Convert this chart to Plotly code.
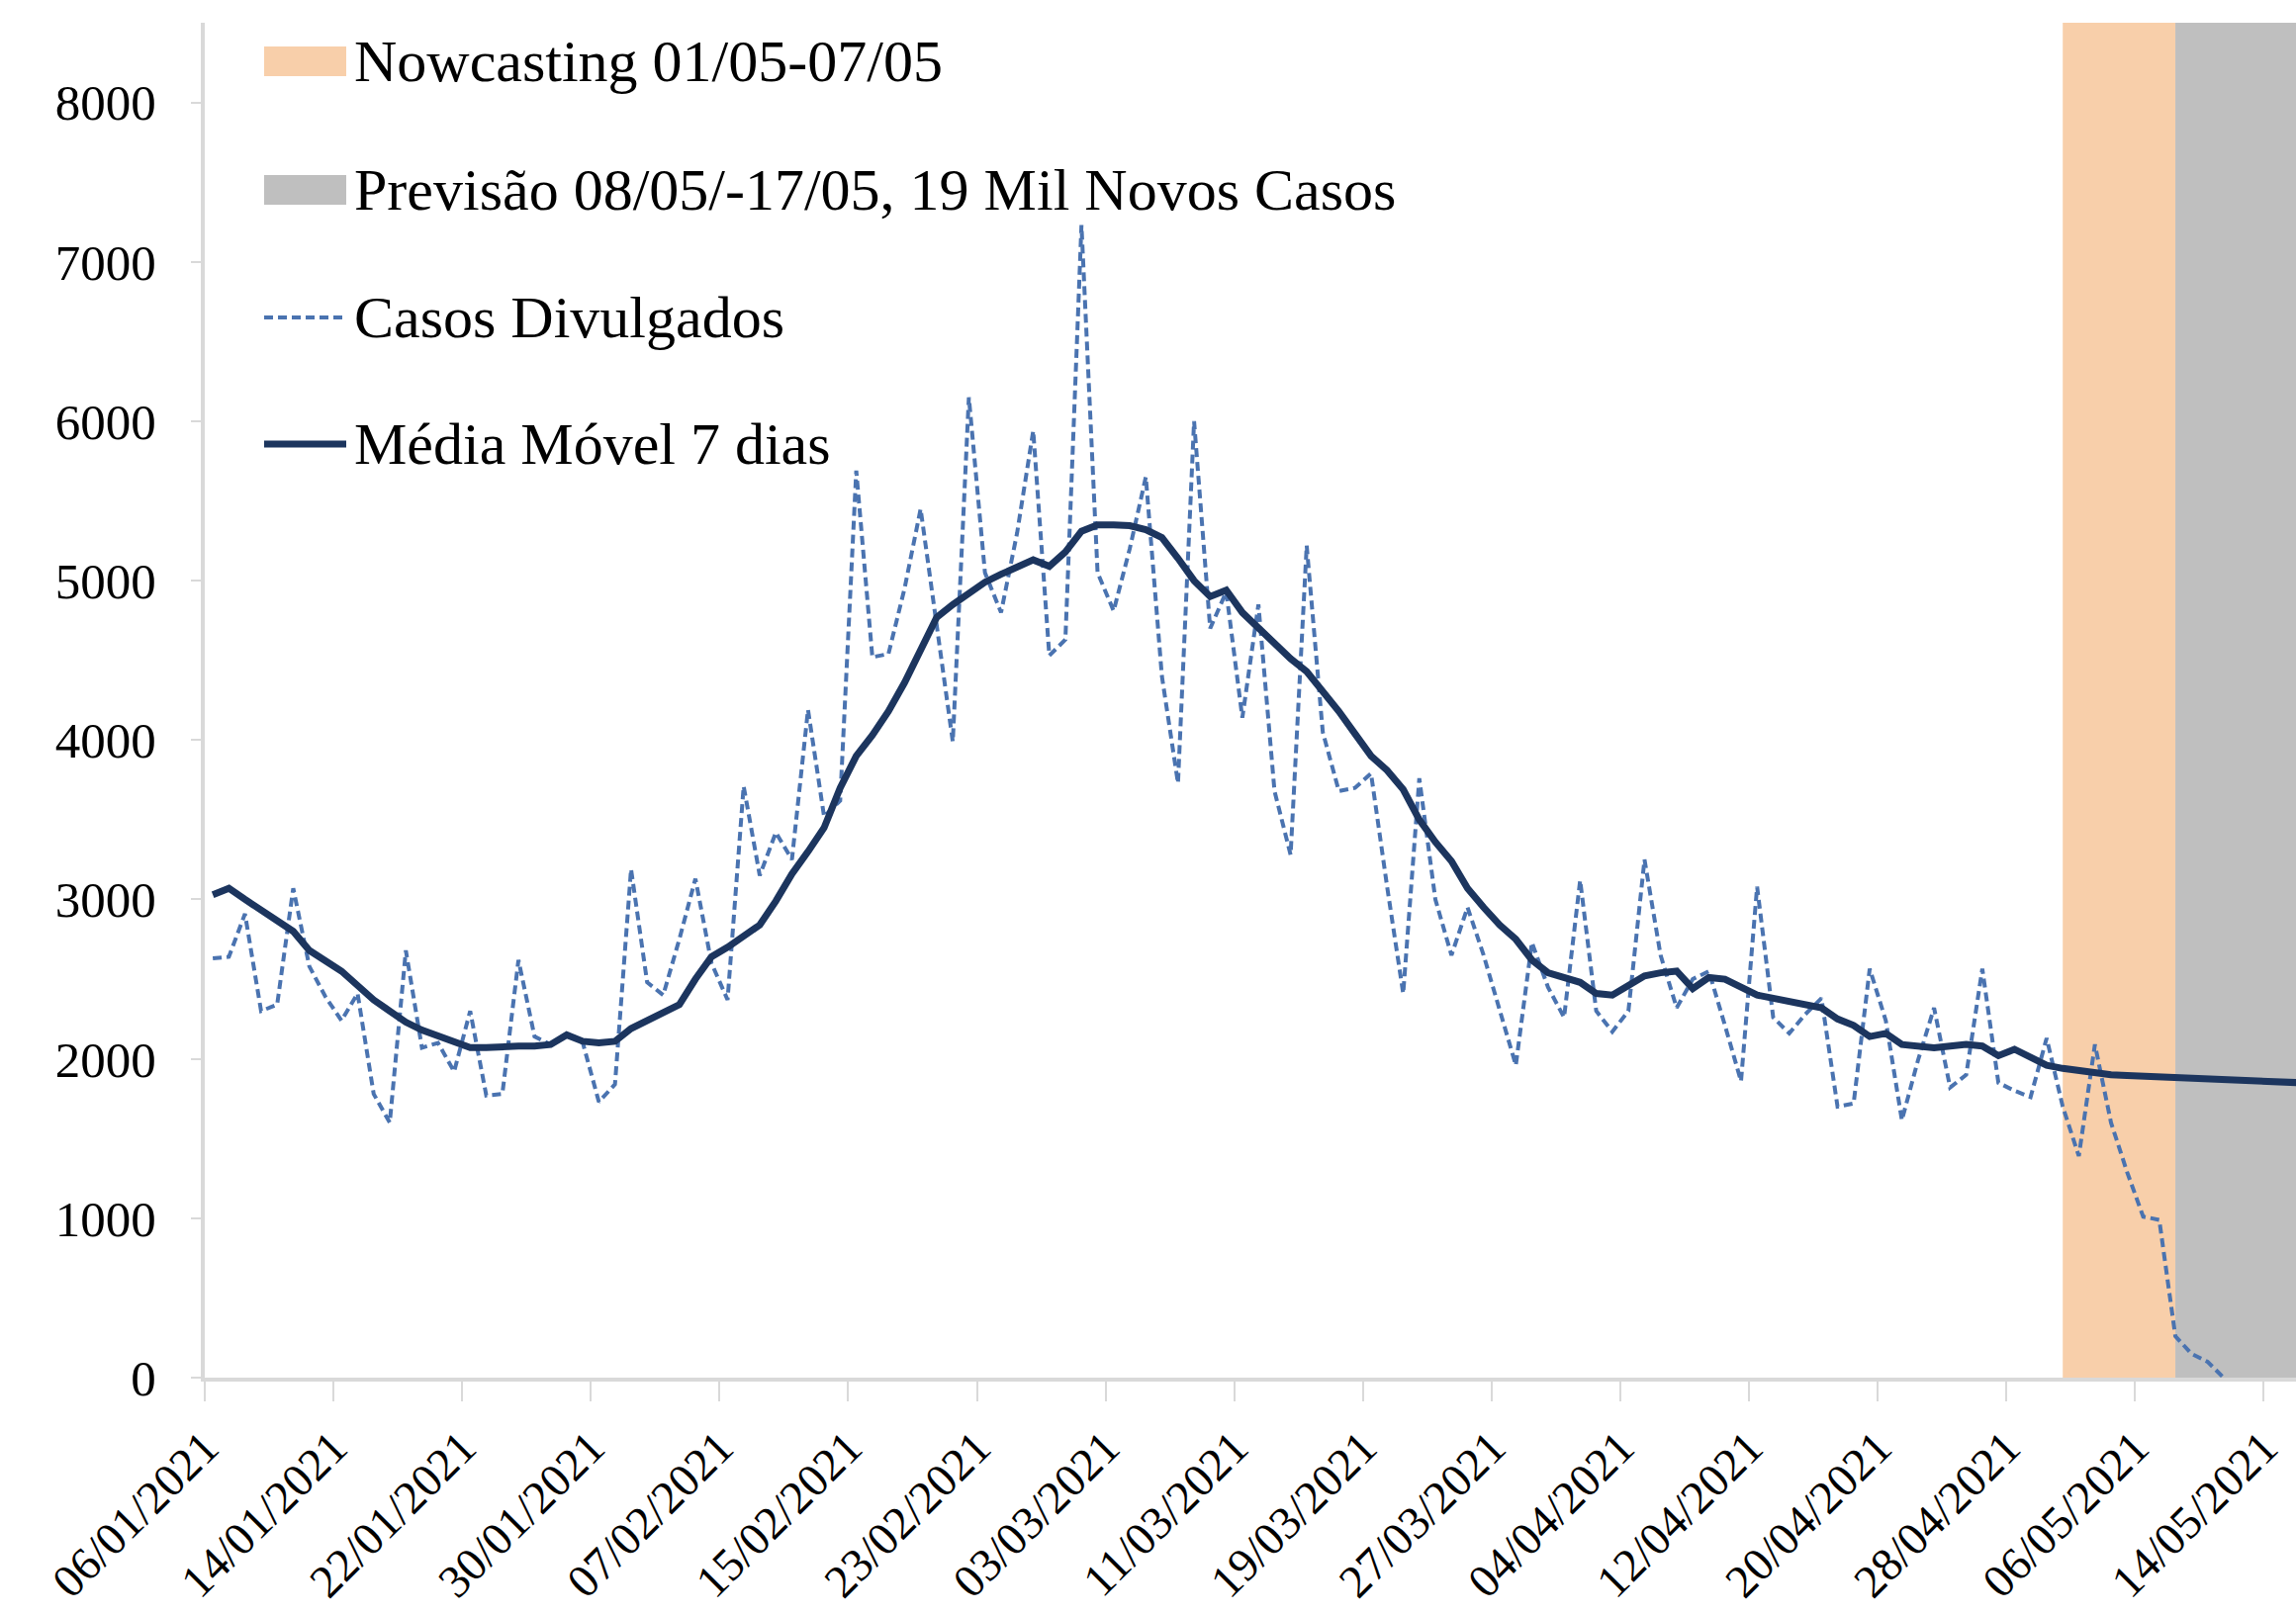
import pandas as pd
import plotly.graph_objects as go

# ---------------- data ----------------
START_DATE = "2021-01-06 12:00"   # first daily value (points sit mid-day)

casos_divulgados = [
    2630, 2640, 2910, 2300, 2340, 3070, 2580, 2390, 2240, 2410,   # 06/01 - 15/01
    1780, 1600, 2680, 2070, 2100, 1920, 2300, 1770, 1780, 2620,   # 16/01 - 25/01
    2140, 2090, 2160, 2100, 1730, 1840, 3190, 2480, 2400, 2750,   # 26/01 - 04/02
    3130, 2600, 2370, 3710, 3150, 3420, 3250, 4190, 3520, 3620,   # 05/02 - 14/02
    5690, 4520, 4540, 4950, 5450, 4700, 3990, 6150, 5050, 4800,   # 15/02 - 24/02
    5300, 5940, 4530, 4630, 7230, 5050, 4810, 5200, 5650, 4400,   # 25/02 - 06/03
    3730, 6000, 4700, 4930, 4140, 4850, 3680, 3280, 5220, 4050,   # 07/03 - 16/03
    3680, 3700, 3790, 3080, 2410, 3760, 3000, 2650, 2950, 2650,   # 17/03 - 26/03
    2300, 1960, 2730, 2450, 2260, 3120, 2300, 2170, 2300, 3250,   # 27/03 - 05/04
    2650, 2320, 2500, 2550, 2210, 1860, 3080, 2260, 2160, 2280,   # 06/04 - 15/04
    2380, 1700, 1720, 2565, 2240, 1615, 1990, 2320, 1820, 1900,   # 16/04 - 25/04
    2565, 1850, 1800, 1760, 2130, 1700, 1390, 2090, 1600, 1290,   # 26/04 - 05/05
    1010, 990, 260, 150, 100, 0,                                  # 06/05 - 11/05
]

media_movel_7d = [
    3030, 3070, 3000, 2930, 2870, 2800, 2680, 2610, 2550, 2460,
    2370, 2300, 2230, 2180, 2140, 2100, 2070, 2070, 2080, 2080,
    2080, 2090, 2150, 2110, 2100, 2110, 2190, 2240, 2290, 2340,
    2500, 2640, 2700, 2770, 2840, 2990, 3160, 3300, 3450, 3700,
    3900, 4030, 4180, 4360, 4560, 4770, 4850, 4920, 4990, 5040,
    5090, 5130, 5090, 5180, 5310, 5350, 5350, 5345, 5320, 5270,
    5140, 5000, 4900, 4940, 4800, 4700, 4600, 4510, 4430, 4310,
    4180, 4040, 3900, 3810, 3690, 3500, 3360, 3240, 3070, 2950,
    2840, 2750, 2620, 2540, 2510, 2480, 2410, 2400, 2460, 2520,
    2540, 2550, 2440, 2510, 2500, 2450, 2400, 2380, 2360, 2350,
    2320, 2250, 2210, 2140, 2160, 2090, 2080, 2070, 2080, 2090,
    2080, 2020, 2060, 2010, 1960, 1940, 1925, 1910, 1900, 1895,
    1890, 1885, 1880, 1875, 1870, 1865, 1860, 1857, 1854, 1851,
    1848, 1845,
]

nowcasting_band = ["2021-05-01 12:00", "2021-05-08 12:00"]
previsao_band = ["2021-05-08 12:00", "2021-05-17 12:00"]

x_range = ["2021-01-06", "2021-05-16"]
x_tick0 = "2021-01-06"
y_range = [0, 8500]
y_ticks = [0, 1000, 2000, 3000, 4000, 5000, 6000, 7000, 8000]

legend_labels = [
    "Nowcasting 01/05-07/05",
    "Previsão 08/05/-17/05, 19 Mil Novos Casos",
    "Casos Divulgados",
    "Média Móvel 7 dias",
]

# ---------------- styling ----------------
W, H = 2321, 1632
ML, MR, MT, MB = 207, 0, 23, 239
PW, PH = W - ML - MR, H - MT - MB

FONT = "Liberation Serif, Times New Roman, serif"
C_DASH = "#4a73b0"
C_MA = "#1c355e"
C_ORANGE = "#f8cfaa"
C_GRAY = "#bfbfbf"
C_AXIS = "#d9d9d9"


def px_x(px):
    return (px - ML) / PW


def px_y(py):
    return (MT + PH - py) / PH


dates_cases = pd.date_range(START_DATE, periods=len(casos_divulgados), freq="D")
dates_ma = pd.date_range(START_DATE, periods=len(media_movel_7d), freq="D")

fig = go.Figure()

fig.add_trace(go.Scatter(
    x=dates_cases, y=casos_divulgados, mode="lines", name=legend_labels[2],
    line=dict(color=C_DASH, width=4, dash="9px,5px"), showlegend=False,
))
fig.add_trace(go.Scatter(
    x=dates_ma, y=media_movel_7d, mode="lines", name=legend_labels[3],
    line=dict(color=C_MA, width=7), showlegend=False,
))

shapes = [
    dict(type="rect", xref="x", yref="paper", x0=nowcasting_band[0], x1=nowcasting_band[1],
         y0=0, y1=1, fillcolor=C_ORANGE, line=dict(width=0), layer="below"),
    dict(type="rect", xref="x", yref="paper", x0=previsao_band[0], x1=previsao_band[1],
         y0=0, y1=1, fillcolor=C_GRAY, line=dict(width=0), layer="below"),
]

# manual legend (swatches + text)
row_y = [62, 192, 321, 449]
sw_x0, sw_x1 = 267, 350
shapes.append(dict(type="rect", xref="paper", yref="paper",
                   x0=px_x(sw_x0), x1=px_x(sw_x1), y0=px_y(row_y[0] + 15), y1=px_y(row_y[0] - 15),
                   fillcolor=C_ORANGE, line=dict(width=0)))
shapes.append(dict(type="rect", xref="paper", yref="paper",
                   x0=px_x(sw_x0), x1=px_x(sw_x1), y0=px_y(row_y[1] + 15), y1=px_y(row_y[1] - 15),
                   fillcolor=C_GRAY, line=dict(width=0)))
shapes.append(dict(type="line", xref="paper", yref="paper",
                   x0=px_x(sw_x0), x1=px_x(sw_x1), y0=px_y(row_y[2]), y1=px_y(row_y[2]),
                   line=dict(color=C_DASH, width=4, dash="9px,5px")))
shapes.append(dict(type="line", xref="paper", yref="paper",
                   x0=px_x(sw_x0), x1=px_x(sw_x1), y0=px_y(row_y[3]), y1=px_y(row_y[3]),
                   line=dict(color=C_MA, width=7)))

annotations = []
for lbl, ry in zip(legend_labels, row_y):
    annotations.append(dict(
        text=lbl, xref="paper", yref="paper", x=px_x(356), y=px_y(ry),
        xanchor="left", yanchor="middle", showarrow=False,
        font=dict(family=FONT, size=60, color="black"),
    ))

fig.update_layout(
    width=W, height=H,
    margin=dict(l=ML, r=MR, t=MT, b=MB, pad=0, autoexpand=False),
    paper_bgcolor="white", plot_bgcolor="white",
    shapes=shapes, annotations=annotations,
    showlegend=False,
    font=dict(family=FONT, color="black"),
)

fig.update_xaxes(
    type="date", range=x_range, tick0=x_tick0, dtick=8 * 86400000,
    tickformat="%d/%m/%Y", tickangle=-45, automargin=False,
    tickfont=dict(family=FONT, size=47, color="black"),
    showgrid=False, zeroline=False,
    showline=True, linecolor=C_AXIS, linewidth=4,
    ticks="outside", ticklen=20, tickwidth=2, tickcolor=C_AXIS,
)
fig.update_yaxes(
    range=y_range, tickvals=y_ticks, automargin=False,
    tickfont=dict(family=FONT, size=51, color="black"),
    showgrid=False, zeroline=False,
    showline=True, linecolor=C_AXIS, linewidth=4,
    ticks="outside", ticklen=10, tickwidth=2, tickcolor=C_AXIS,
    ticklabelstandoff=25,
)

# remove the browser's default 8px body margin so the figure fills the window exactly
fig.write_html(
    "out.html",
    config={"displayModeBar": False},
    post_script="document.body.style.margin='0';document.body.style.overflow='hidden';",
)
